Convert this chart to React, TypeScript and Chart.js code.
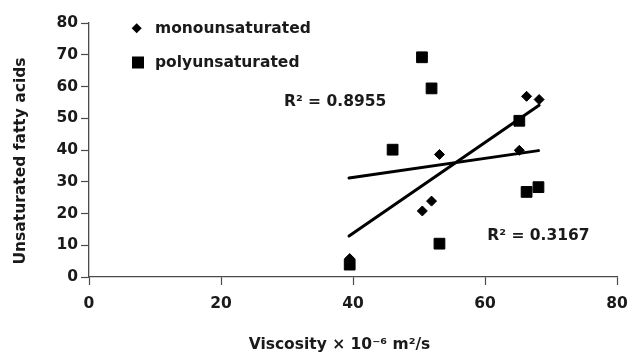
import React, { useEffect, useRef } from "react";
import { Chart, registerables } from "chart.js";

Chart.register(...registerables);

// ---- data ----
const monoX = [39.5, 50.5, 51.9, 53.1, 65.2, 66.3, 68.2];
const monoY = [5.8, 20.8, 23.9, 38.6, 39.9, 56.9, 55.9];
const polyX = [39.5, 46.0, 50.45, 51.9, 53.1, 65.2, 66.3, 68.1];
const polyY = [3.9, 40.1, 69.2, 59.4, 10.5, 49.2, 26.8, 28.3];
const monoTrendX = [39.4, 68.2];
const monoTrendY = [12.9, 54.1];
const polyTrendX = [39.4, 68.1];
const polyTrendY = [31.2, 39.8];
const xTicks = [0, 20, 40, 60, 80];
const yTicks = [0, 10, 20, 30, 40, 50, 60, 70, 80];
const seriesNames = ["monounsaturated", "polyunsaturated"];
const r2Labels = ["R\u00B2 = 0.8955", "R\u00B2 = 0.3167"];
const xTitle = "Viscosity \u00D7 10\u207B\u2076 m\u00B2/s";
const yTitle = "Unsaturated fatty acids";

const FONT = "'DejaVu Sans', sans-serif";
const TEXT = "#1a1a1a";
const AXIS = "#4a4a4a";

const toPts = (xs: number[], ys: number[]) => xs.map((x, i) => ({ x, y: ys[i] }));

const overlay = {
  id: "overlay",
  afterDraw(chart: any) {
    const ctx = chart.ctx as CanvasRenderingContext2D;
    ctx.save();
    ctx.font = `bold 15.5px ${FONT}`;
    ctx.textBaseline = "alphabetic";
    ctx.textAlign = "left";
    // legend markers
    ctx.fillStyle = "#000";
    ctx.beginPath();
    const dx = 136.7, dy = 28.3, dr = 5;
    ctx.moveTo(dx - dr, dy);
    ctx.lineTo(dx, dy - dr);
    ctx.lineTo(dx + dr, dy);
    ctx.lineTo(dx, dy + dr);
    ctx.closePath();
    ctx.fill();
    ctx.fillRect(132, 56.5, 12, 12);
    // legend text
    ctx.fillStyle = TEXT;
    ctx.fillText(seriesNames[0], 155, 33);
    ctx.fillText(seriesNames[1], 155, 66.5);
    // R² labels
    ctx.fillText(r2Labels[0], 284, 105.7);
    ctx.fillText(r2Labels[1], 487.3, 240);
    // axis titles
    ctx.textAlign = "center";
    ctx.fillText(xTitle, 339.5, 349);
    ctx.translate(24.8, 161);
    ctx.rotate(-Math.PI / 2);
    ctx.fillText(yTitle, 0, 0);
    ctx.restore();
  },
};

export default function App() {
  const ref = useRef<HTMLCanvasElement | null>(null);
  useEffect(() => {
    if (!ref.current) return;
    const chart = new Chart(ref.current, {
      type: "scatter",
      data: {
        datasets: [
          {
            label: seriesNames[0],
            data: toPts(monoX, monoY),
            pointStyle: "rectRot",
            pointRadius: 5,
            pointBorderWidth: 1,
            backgroundColor: "#000",
            borderColor: "#000",
          },
          {
            label: seriesNames[1],
            data: toPts(polyX, polyY),
            pointStyle: "rect",
            pointRadius: 7.6,
            pointBorderWidth: 1,
            backgroundColor: "#000",
            borderColor: "#000",
          },
          {
            label: "mono trend",
            data: toPts(monoTrendX, monoTrendY),
            showLine: true,
            pointRadius: 0,
            borderColor: "#000",
            borderWidth: 3,
            borderCapStyle: "round",
          } as any,
          {
            label: "poly trend",
            data: toPts(polyTrendX, polyTrendY),
            showLine: true,
            pointRadius: 0,
            borderColor: "#000",
            borderWidth: 3,
            borderCapStyle: "round",
          } as any,
        ],
      },
      options: {
        animation: false,
        responsive: false,
        devicePixelRatio: 1,
        layout: { padding: { top: 23, right: 11, left: 0, bottom: 0 } },
        plugins: { legend: { display: false }, tooltip: { enabled: false } },
        scales: {
          x: {
            type: "linear",
            min: 0,
            max: 80,
            afterBuildTicks: (s: any) => {
              s.ticks = xTicks.map((v) => ({ value: v }));
            },
            afterFit: (s: any) => {
              s.height = 77;
              s.paddingLeft = 0;
              s.paddingRight = 0;
            },
            grid: {
              drawOnChartArea: false,
              drawTicks: true,
              tickLength: 8,
              tickColor: AXIS,
              tickWidth: 1.2,
            },
            border: { display: true, color: AXIS, width: 1.3 },
            ticks: {
              padding: 10,
              color: TEXT,
              font: { family: FONT, size: 15.5, weight: "bold" },
              maxRotation: 0,
            },
          },
          y: {
            type: "linear",
            min: 0,
            max: 80,
            afterBuildTicks: (s: any) => {
              s.ticks = yTicks.map((v) => ({ value: v }));
            },
            afterFit: (s: any) => {
              s.width = 89;
              s.paddingTop = 0;
              s.paddingBottom = 0;
            },
            grid: {
              drawOnChartArea: false,
              drawTicks: true,
              tickLength: 8,
              tickColor: AXIS,
              tickWidth: 1.2,
            },
            border: { display: true, color: AXIS, width: 1.3 },
            ticks: {
              padding: 3,
              color: TEXT,
              font: { family: FONT, size: 15.5, weight: "bold" },
            },
          },
        },
      } as any,
      plugins: [overlay],
    });
    return () => chart.destroy();
  }, []);
  return (
    <div style={{ position: "fixed", left: 0, top: 0, width: 628, height: 354, background: "#fff" }}>
      <canvas ref={ref} width={628} height={354} />
    </div>
  );
}
